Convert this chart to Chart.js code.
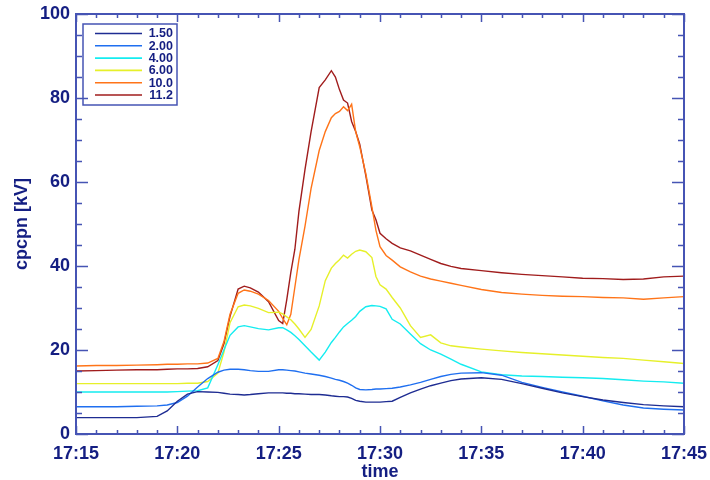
<!DOCTYPE html>
<html>
<head>
<meta charset="utf-8">
<script src="https://cdn.jsdelivr.net/npm/chart.js@4.4.1/dist/chart.umd.min.js"></script>
<style>
  html, body { margin: 0; padding: 0; background: #ffffff; }
  canvas { display: block; }
</style>
</head>
<body>
<canvas id="c" width="710" height="480"></canvas>
<script>
// time in minutes after 17:00
const times = [15, 16, 17, 18, 19, 19.5, 20, 20.5, 21, 21.5, 22, 22.3, 22.6, 23, 23.3, 23.6, 24, 24.5, 25, 25.2,
  25.4, 25.6, 25.8, 26, 26.3, 26.6, 27, 27.3, 27.6, 27.8, 28, 28.2, 28.4, 28.6, 28.8, 29, 29.3, 29.6, 29.8, 30,
  30.3, 30.6, 31, 31.5, 32, 32.5, 33, 33.5, 34, 35, 36, 37, 38, 39, 40, 41, 42, 43, 44, 45];

const s150 = [3.9, 3.9, 3.9, 3.9, 4.2, 5.5, 7.8, 9.5, 10.1, 10.0, 9.9, 9.7, 9.5, 9.4, 9.3, 9.4, 9.6, 9.8, 9.8, 9.8,
  9.7, 9.7, 9.6, 9.6, 9.5, 9.4, 9.4, 9.3, 9.1, 9.0, 8.9, 8.9, 8.8, 8.5, 8.0, 7.8, 7.6, 7.6, 7.6, 7.6,
  7.7, 7.8, 8.7, 9.8, 10.7, 11.5, 12.1, 12.7, 13.1, 13.4, 13.0, 12.0, 10.9, 9.8, 8.9, 8.1, 7.5, 7.0, 6.7, 6.5];

const s200 = [6.5, 6.5, 6.5, 6.6, 6.7, 6.9, 7.5, 9.0, 11.2, 13.2, 14.7, 15.2, 15.4, 15.4, 15.3, 15.1, 14.9, 14.9, 15.3, 15.3,
  15.2, 15.1, 15.0, 14.8, 14.5, 14.3, 14.0, 13.7, 13.3, 13.0, 12.8, 12.5, 12.1, 11.6, 11.0, 10.6, 10.5, 10.6, 10.7, 10.7,
  10.8, 10.9, 11.2, 11.7, 12.3, 13.0, 13.7, 14.2, 14.5, 14.6, 14.0, 12.3, 11.1, 10.0, 9.0, 7.9, 6.9, 6.2, 5.9, 5.7];

const s400 = [10.0, 10.0, 10.0, 10.0, 10.0, 10.0, 10.1, 10.2, 10.3, 11.0, 16.5, 20.0, 23.5, 25.5, 25.8, 25.5, 25.1, 24.8, 25.3, 25.3,
  24.8, 24.2, 23.4, 22.5, 21.0, 19.5, 17.6, 19.5, 21.8, 23.0, 24.3, 25.5, 26.3, 27.1, 28.0, 29.2, 30.3, 30.6, 30.5, 30.4,
  29.8, 27.3, 26.2, 23.8, 21.5, 20.0, 19.0, 17.8, 16.6, 14.8, 14.1, 13.8, 13.7, 13.5, 13.4, 13.2, 12.9, 12.6, 12.4, 12.1];

const s600 = [12.0, 12.0, 12.0, 12.0, 12.0, 12.0, 12.0, 12.1, 12.1, 12.5, 14.5, 19.5, 26.5, 30.3, 30.7, 30.5, 29.9, 28.9, 29.0, 28.6,
  27.9, 27.2, 26.2, 25.0, 23.0, 24.9, 30.5, 36.5, 39.5, 40.6, 41.5, 42.6, 41.9, 42.8, 43.5, 43.8, 43.4, 42.0, 37.5, 35.5,
  34.5, 32.5, 30.0, 25.8, 23.0, 23.6, 21.7, 21.0, 20.7, 20.2, 19.8, 19.4, 19.1, 18.8, 18.5, 18.2, 18.0, 17.6, 17.2, 16.8];

const s100 = [16.2, 16.3, 16.3, 16.4, 16.5, 16.6, 16.6, 16.7, 16.7, 16.9, 18.0, 22.0, 28.5, 33.5, 34.3, 34.0, 33.3, 31.8, 29.2, 27.5,
  26.0, 28.5, 35.0, 41.5, 49.5, 58.5, 67.5, 72.0, 75.3, 76.3, 76.8, 77.9, 77.0, 78.5, 72.0, 68.4, 62.0, 54.1, 48.5, 44.6,
  42.5, 41.4, 39.8, 38.6, 37.6, 36.9, 36.4, 35.9, 35.4, 34.4, 33.7, 33.3, 33.0, 32.8, 32.7, 32.5, 32.4, 32.1, 32.4, 32.7];

const s112 = [15.0, 15.1, 15.2, 15.3, 15.3, 15.4, 15.5, 15.5, 15.6, 16.0, 17.5, 21.5, 28.0, 34.5, 35.2, 34.8, 33.8, 31.5, 27.0, 26.3,
  32.0, 38.5, 44.0, 53.0, 63.0, 72.0, 82.5, 84.3, 86.5, 85.0, 82.0, 79.5, 78.8, 74.4, 72.0, 69.0, 61.5, 53.3, 51.0, 47.8,
  46.5, 45.4, 44.3, 43.6, 42.6, 41.6, 40.6, 39.9, 39.4, 38.9, 38.4, 38.0, 37.7, 37.4, 37.1, 37.0, 36.8, 36.9, 37.4, 37.6];

const seriesLabels = ['1.50', '2.00', '4.00', '6.00', '10.0', '11.2'];
const seriesColors = ['#1e2c92', '#1f6ff0', '#14ecf0', '#e6f02a', '#ff7418', '#a01c1c'];
const seriesValues = [s150, s200, s400, s600, s100, s112];

const xTickValues = [15, 20, 25, 30, 35, 40, 45];
const yTickValues = [0, 20, 40, 60, 80, 100];

const TEXT = '#141e82';
const AXIS = '#4654b4';
const FONT = '"Liberation Sans", Arial, Helvetica, sans-serif';

const datasets = seriesValues.map((vals, k) => ({
  label: seriesLabels[k],
  data: times.map((t, i) => ({ x: t, y: vals[i] })),
  borderColor: seriesColors[k],
  backgroundColor: seriesColors[k],
  borderWidth: 1.4,
  pointRadius: 0,
  tension: 0,
  fill: false
}));

const frame = {
  id: 'frame',
  afterDatasetsDraw(chart) {
    const { ctx, chartArea: a, scales: { x, y } } = chart;
    ctx.save();
    ctx.strokeStyle = AXIS;
    ctx.lineWidth = 1.5;
    for (let m = 15; m <= 45; m++) {
      const px = Math.round(x.getPixelForValue(m)) + 0.5;
      const len = (m % 5 === 0) ? 8 : 4;
      ctx.beginPath();
      ctx.moveTo(px, a.bottom); ctx.lineTo(px, a.bottom - len);
      ctx.moveTo(px, a.top); ctx.lineTo(px, a.top + len);
      ctx.stroke();
    }
    for (let v = 0; v <= 100; v += 5) {
      const py = Math.round(y.getPixelForValue(v)) + 0.5;
      const len = (v % 20 === 0) ? 12 : 6;
      ctx.beginPath();
      ctx.moveTo(a.left, py); ctx.lineTo(a.left + len, py);
      ctx.moveTo(a.right, py); ctx.lineTo(a.right - len, py);
      ctx.stroke();
    }
    ctx.lineWidth = 2;
    ctx.strokeRect(a.left, a.top, a.right - a.left, a.bottom - a.top);

    // legend
    const lx = a.left + 7, ly = a.top + 10, lw = 94, lh = 81;
    ctx.lineWidth = 1.5;
    ctx.strokeRect(lx, ly, lw, lh);
    ctx.font = 'bold 12.5px ' + FONT;
    ctx.textAlign = 'right';
    ctx.textBaseline = 'middle';
    chart.data.datasets.forEach((ds, i) => {
      const yy = ly + 9.5 + i * 12.3;
      ctx.strokeStyle = ds.borderColor;
      ctx.lineWidth = 1.6;
      ctx.beginPath();
      ctx.moveTo(lx + 12, yy); ctx.lineTo(lx + 59, yy);
      ctx.stroke();
      ctx.fillStyle = TEXT;
      ctx.fillText(ds.label, lx + 90, yy + 0.5);
    });
    ctx.restore();
  }
};

new Chart(document.getElementById('c'), {
  type: 'line',
  data: { datasets },
  options: {
    responsive: false,
    animation: false,
    events: [],
    layout: { padding: { left: 0, right: 26, top: 14, bottom: 0 } },
    plugins: { legend: { display: false }, tooltip: { enabled: false } },
    scales: {
      x: {
        type: 'linear',
        min: 15, max: 45,
        afterBuildTicks: s => { s.ticks = xTickValues.map(v => ({ value: v })); },
        afterFit: s => { s.height = 46; s.paddingLeft = 0; s.paddingRight = 0; },
        grid: { display: false, drawTicks: false },
        border: { display: false },
        ticks: {
          autoSkip: false, maxRotation: 0, padding: 9,
          color: TEXT, font: { family: FONT, size: 18, weight: 'bold' },
          callback: v => '17:' + String(v).padStart(2, '0')
        },
        title: {
          display: true, text: 'time', color: TEXT,
          font: { family: FONT, size: 18, weight: 'bold' },
          padding: { top: 0, bottom: -3 }
        }
      },
      y: {
        min: 0, max: 100,
        afterBuildTicks: s => { s.ticks = yTickValues.map(v => ({ value: v })); },
        afterFit: s => { s.width = 76; s.paddingTop = 0; s.paddingBottom = 0; },
        grid: { display: false, drawTicks: false },
        border: { display: false },
        ticks: {
          padding: 6, color: TEXT,
          font: { family: FONT, size: 18, weight: 'bold' }
        },
        title: {
          display: true, text: 'cpcpn [kV]', color: TEXT,
          font: { family: FONT, size: 18, weight: 'bold' },
          padding: { top: 11, bottom: 0 }
        }
      }
    }
  },
  plugins: [frame]
});
</script>
</body>
</html>
